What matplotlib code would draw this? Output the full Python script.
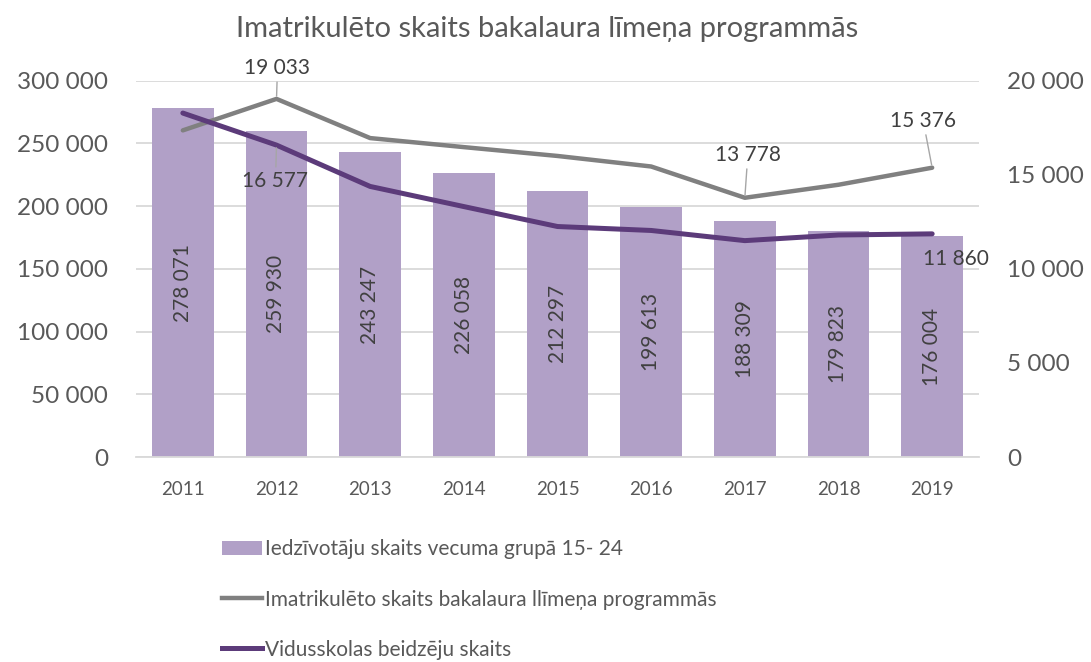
import matplotlib
matplotlib.use('Agg')
import matplotlib.pyplot as plt
from matplotlib.ticker import MultipleLocator, FuncFormatter
from matplotlib.patches import Patch
from matplotlib.lines import Line2D

years = ['2011', '2012', '2013', '2014', '2015', '2016', '2017', '2018', '2019']
population = [278071, 259930, 243247, 226058, 212297, 199613, 188309, 179823, 176004]
enrolled = [17360, 19033, 16950, 16470, 16000, 15440, 13778, 14470, 15376]
graduates = [18280, 16577, 14380, 13310, 12250, 12040, 11500, 11800, 11860]

title = 'Imatrikulēto skaits bakalaura līmeņa programmās'
label_bars = 'Iedzīvotāju skaits vecuma grupā 15- 24'
label_enrolled = 'Imatrikulēto skaits bakalaura llīmeņa programmās'
label_grad = 'Vidusskolas beidzēju skaits'

plt.rcParams['font.family'] = ['Lato', 'DejaVu Sans']

BAR_C = '#b1a0c7'
GRAY_C = '#808080'
PURP_C = '#5c3b7a'
TICK_C = '#595959'
LAB_C = '#404040'
GRID_C = '#d9d9d9'

W, H = 1091, 662
fig = plt.figure(figsize=(W / 100, H / 100), dpi=100)
ax = fig.add_axes([136 / W, 1 - 457 / H, 843 / W, (457 - 80.7) / H])

def fmt(v, p=None):
    return f'{int(round(v)):,}'.replace(',', ' ')

x = list(range(len(years)))
ax.bar(x, population, width=0.66, color=BAR_C, zorder=2)
ax.set_xlim(-0.5, 8.5)
ax.set_ylim(0, 300000)
ax.yaxis.set_major_locator(MultipleLocator(50000))
ax.yaxis.set_major_formatter(FuncFormatter(fmt))
ax.set_xticks(x)
ax.set_xticklabels(years)
ax.grid(axis='y', color=GRID_C, lw=1.3, zorder=0)
ax.set_axisbelow(True)
for s in ['top', 'left', 'right']:
    ax.spines[s].set_visible(False)
ax.spines['bottom'].set_color(GRID_C)
ax.spines['bottom'].set_linewidth(1.3)
ax.tick_params(axis='y', length=0, pad=20, labelsize=17.5, labelcolor=TICK_C)
ax.tick_params(axis='x', length=0, pad=17, labelsize=13.5, labelcolor=TICK_C)

for xi, v in zip(x, population):
    ax.text(xi, v / 2, fmt(v), rotation=90, ha='center', va='center',
            fontsize=15, color=LAB_C, zorder=3)

ax2 = ax.twinx()
ax2.set_ylim(0, 20000)
ax2.yaxis.set_major_locator(MultipleLocator(5000))
ax2.yaxis.set_major_formatter(FuncFormatter(fmt))
for s in ['top', 'left', 'right', 'bottom']:
    ax2.spines[s].set_visible(False)
ax2.tick_params(axis='y', length=0, pad=20, labelsize=17.5, labelcolor=TICK_C)

ax2.plot(x, enrolled, color=GRAY_C, lw=3.2, solid_capstyle='round', zorder=4)
ax2.plot(x, graduates, color=PURP_C, lw=3.6, solid_capstyle='round', zorder=5)

k = 0.72
def note(series, idx, dx, dy, leader=True):
    ap = dict(arrowstyle='-', color='#a6a6a6', lw=1, shrinkA=1, shrinkB=2) if leader else None
    ax2.annotate(fmt(series[idx]), xy=(idx, series[idx]), xytext=(dx * k, dy * k),
                 textcoords='offset points', ha='center', va='center',
                 fontsize=15, color=LAB_C, arrowprops=ap, zorder=6)

note(enrolled, 1, 1, 31)
note(graduates, 1, -1, -36)
note(enrolled, 6, 3, 43)
note(enrolled, 8, -9, 47)
note(graduates, 8, 24, -25, leader=False)

fig.text(547 / W, 1 - 29 / H, title, ha='center', va='center', fontsize=21, color=TICK_C)

handles = [Patch(facecolor=BAR_C, edgecolor='none'),
           Line2D([], [], color=GRAY_C, lw=3.2),
           Line2D([], [], color=PURP_C, lw=3.6)]
fig.legend(handles, [label_bars, label_enrolled, label_grad], loc='upper left',
           bbox_to_anchor=(214 / W, 1 - 531 / H), frameon=False, fontsize=15,
           handlelength=1.9, handletextpad=0.15, labelspacing=1.45,
           labelcolor=TICK_C, borderaxespad=0)

fig.savefig('out.png', dpi=100)
